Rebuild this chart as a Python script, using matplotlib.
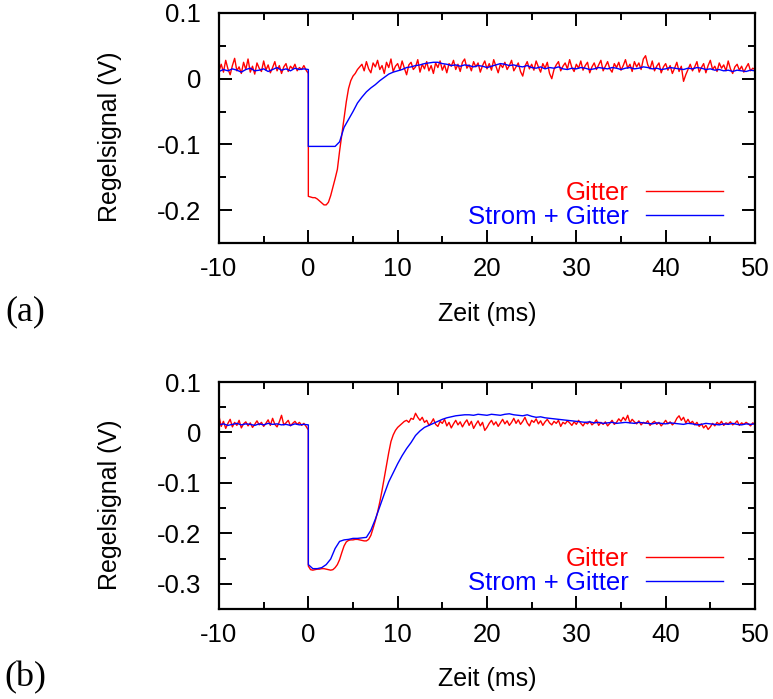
import numpy as np
import matplotlib
matplotlib.use('Agg')
import matplotlib.pyplot as plt
from matplotlib.ticker import MultipleLocator

plt.rcParams['font.family'] = ['Liberation Sans', 'DejaVu Sans']
plt.rcParams['axes.unicode_minus'] = False

# signals in mV
# red = "Gitter" (0.25 ms sampling), blue = "Strom + Gitter" (0.5 ms sampling)
# *_pre ends at t = 0 (just before the step), *_post starts at t = 0

# ---- panel (a)
red_a_pre = [12, 22, 10, 28, 15, 6, 20, 31, 12, 18, 8, 25, 14, 30, 10, 19, 7, 24, 16, 11,
             27, 13, 21, 9, 17, 26, 12, 20, 8, 18, 23, 11, 19, 15, 22, 12, 17, 14, 20, 13, 8]
red_a_post = [-179, -180, -181, -181, -183, -186, -189, -192, -192, -188, -178, -165,
              -152, -138, -110, -85, -60, -35, -15, -3, 4, 8, 14, 18,
              22, 12, 26, 15, 9, 24, 18, 28,
              14, 20, 8, 25, 17, 30, 11, 19,
              23, 13, 27, 16, 6, 21, 25, 14,
              18, 29, 10, 22, 15, 26, 12, 20,
              8, 24, 17, 27, 13, 21, 9, 23,
              19, 28, 14, 22, 11, 25, 30, 16,
              21, 12, 26, 18, 24, 10, 20, 27,
              15, 23, 13, 29, 19, 9, 22, 17,
              25, 14, 20, 28, 12, 18, 24, 11,
              4, 19, 26, 15, 22, 13, 27, 18,
              10, 23, 16, 25, 8, 0, 14, 21,
              26, 12, 19, 24, 15, 29, 17, 11,
              22, 16, 27, 13, 20, 25, 9, 18,
              24, 14, 21, 28, 12, 19, 26, 15,
              10, 23, 17, 25, 13, 20, 29, 16,
              22, 11, 26, 18, 24, 14, 30, 35,
              21, 15, 27, 12, 19, 24, 9, 18,
              23, 13, 20, 8, 16, 25, 11, 19,
              -4, 6, 14, 22, 12, 18, 26, 10,
              17, 23, 9, 20, 28, 14, 19, 11,
              24, 16, 21, 12, 27, 15, 8, 18,
              22, 13, 19, 10, 17, 23, 12, 16, 14]
blue_a_pre = [11, 14, 12, 15, 13, 10, 14, 16, 12, 13, 15, 11, 14, 17, 13, 15, 12, 16, 14, 15, 14]
blue_a_post = [-103, -103, -103, -103, -103, -103, -103,
               -96, -74, -62, -50, -37, -28, -20, -14, -9, -3, 2, 7, 10, 12, 14, 17, 18,
               20, 21, 23, 24, 25, 25,
               23, 22, 20, 21, 19, 21, 20, 18, 20, 19, 17, 19, 21, 23, 22, 20, 21, 19,
               18, 20, 17, 16, 18, 15, 17, 16, 18, 15, 14, 16, 15, 17, 16, 14, 15, 17,
               16, 15, 17, 16, 14, 16, 17, 15, 16, 18, 17, 15, 16, 14, 15, 17, 16, 15,
               14, 16, 15, 17, 16, 14, 15, 13, 14, 12, 13, 11, 13, 12, 11, 13, 12]

# ---- panel (b)
red_b_pre = [32, 12, 22, 8, 18, 26, 11, 20, 14, 24, 9, 17, 21, 13, 19, 10, 16, 23, 15, 20,
             12, 18, 25, 14, 28, 16, 11, 21, 34, 15, 19, 24, 13, 18, 22, 16, 20, 14, 18, 12, 5]
red_b_post = [-265, -272, -273, -272, -271, -271, -270, -270, -271, -272, -273, -272,
              -268, -262, -252, -238, -225, -217, -214, -213, -213, -212, -212, -213,
              -214, -215, -215, -212, -204, -190, -175, -158, -138, -115, -90, -65,
              -40, -18, -5, 4, 10, 14, 18, 22, 24, 20, 28, 26, 38, 30, 24, 30, 20,
              24, 14, 19, 27, 16, 12, 22, 18,
              26, 13, 20, 9, 17, 24, 15, 21,
              11, 19, 25, 14, 22, 8, 16, 23,
              13, 20, 4, 10, 18, 24, 15, 21,
              12, 19, 26, 17, 23, 14, 20, 28,
              18, 25, 16, 22, 30, 19, 13, 24,
              20, 27, 17, 23, 14, 21, 26, 19,
              15, 22, 18, 24, 12, 20, 17, 23,
              19, 14, 21, 16, 24, 18, 13, 20,
              17, 22, 15, 19, 25, 14, 20, 16,
              21, 13, 18, 24, 16, 20, 27, 22,
              30, 24, 34, 19, 26, 21, 17, 23,
              15, 20, 18, 23, 14, 19, 22, 16,
              20, 13, 18, 24, 17, 21, 15, 19,
              28, 33, 24, 30, 19, 26, 18, 22,
              15, 20, 12, 17, 9, 14, 6, 11,
              18, 13, 20, 16, 22, 14, 19, 17,
              21, 15, 18, 23, 14, 19, 16, 20,
              17, 13, 19, 16]
blue_b_pre = [15, 17, 14, 16, 18, 15, 17, 16, 14, 17, 15, 18, 16, 17, 15, 16, 14, 17, 15, 16, 15]
blue_b_post = [-262, -270, -270, -268, -262, -251, -230, -216, -213, -212, -210, -210,
               -209, -208, -194, -172, -147, -122, -98, -80, -62, -46, -32, -20, -6, 3,
               10, 14, 18, 22, 26, 29, 31, 33, 34, 35,
               35, 34, 36, 35, 34, 36, 35, 34, 36, 37, 35, 34, 33, 35, 32, 30, 31, 29,
               28, 27, 26, 25, 24, 23, 22, 21, 20, 21, 19, 20, 18, 19, 20, 18, 19, 20,
               19, 18, 20, 19, 18, 17, 19, 18, 17, 19, 18, 17, 16, 18, 17, 15, 16, 18,
               17, 16, 15, 17, 16, 18, 16, 15, 17, 16, 17]


def trace(pre, post, dt):
    t_pre = dt * (np.arange(len(pre)) - (len(pre) - 1))
    t_post = dt * np.arange(len(post))
    t = np.concatenate([t_pre, t_post])
    v = np.concatenate([pre, post]) / 1000.0
    return t, v


fig = plt.figure(figsize=(7.73, 6.99), dpi=100)
ax_a = fig.add_axes([219/773, 1-243/699, 536/773, 230/699])
ax_b = fig.add_axes([219/773, 1-609/699, 536/773, 227/699])

panels = [(ax_a, red_a_pre, red_a_post, blue_a_pre, blue_a_post, (-0.25, 0.1)),
          (ax_b, red_b_pre, red_b_post, blue_b_pre, blue_b_post, (-0.35, 0.1))]

for ax, rp, rq, bp, bq, ylim in panels:
    t, v = trace(rp, rq, 0.25)
    ax.plot(t, v, color='#ff0000', lw=1.0, label='Gitter')
    t, v = trace(bp, bq, 0.5)
    ax.plot(t, v, color='#0000ff', lw=1.0, label='Strom + Gitter')
    ax.set_xlim(-10, 50)
    ax.set_ylim(*ylim)
    ax.xaxis.set_major_locator(MultipleLocator(10))
    ax.xaxis.set_minor_locator(MultipleLocator(5))
    ax.yaxis.set_major_locator(MultipleLocator(0.1))
    ax.yaxis.set_minor_locator(MultipleLocator(0.05))
    ax.yaxis.set_major_formatter(plt.FuncFormatter(lambda y, p: '0' if abs(y) < 1e-9 else ('%g' % y)))
    ax.tick_params(which='both', direction='in', top=True, right=True, width=1.4,
                   labelsize=18.5)
    ax.tick_params(which='major', length=9.5)
    ax.tick_params(which='minor', length=4.7)
    ax.tick_params(axis='x', pad=10)
    ax.tick_params(axis='y', pad=13)
    for s in ax.spines.values():
        s.set_linewidth(1.6)
    ax.set_ylabel('Regelsignal (V)', fontsize=18)
    ax.set_xlabel('Zeit (ms)', fontsize=18)
    ax.yaxis.set_label_coords(-0.181, 0.46)
    ax.xaxis.set_label_coords(0.5, -0.255)
    ax.legend(loc='lower right', bbox_to_anchor=(0.94, 0.06), frameon=False,
              markerfirst=False, fontsize=18.5, handlelength=3.0, handletextpad=0.65,
              labelspacing=0.0, borderpad=0, borderaxespad=0, labelcolor='linecolor')

fig.text(25/773, 1-312/699, '(a)', ha='center', va='center', fontsize=26,
         family='Liberation Serif')
fig.text(25/773, 1-678/699, '(b)', ha='center', va='center', fontsize=26,
         family='Liberation Serif')

fig.savefig('out.png', dpi=100)
